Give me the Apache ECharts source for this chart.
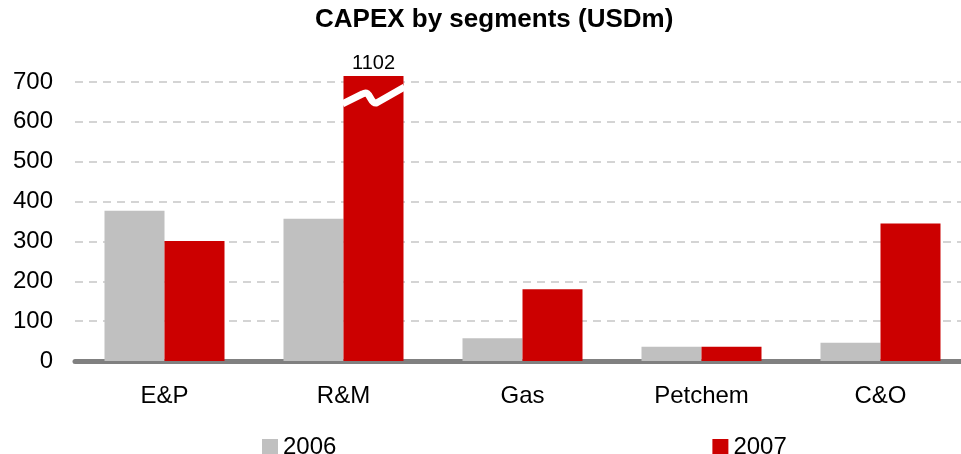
<!DOCTYPE html>
<html lang="en">
<head>
  <meta charset="UTF-8">
  <title>CAPEX by segments</title>
  <script src="https://cdn.jsdelivr.net/npm/echarts@6/dist/echarts.min.js"></script>
  <style>
    html, body { margin: 0; padding: 0; background: #fff; }
    #main { width: 961px; height: 454px; }
  </style>
</head>
<body>

<div id="main"></div>

<script>
  var categories = ['E&P', 'R&M', 'Gas', 'Petchem', 'C&O'];
  var values2006 = [377, 357, 57, 36, 46];
  var values2007 = [301, 1102, 180, 36, 345];
  var yTicks = [0, 100, 200, 300, 400, 500, 600, 700];
  var capValue = 715;   // bars taller than the axis are cut here
  var breakValue = 670; // where the break squiggle sits

  var red = '#cc0000';
  var grey = '#c0c0c0';
  var font = '"Liberation Sans", Arial, sans-serif';

  // 2007 bars, long ones capped and labelled with their real value
  var data2007 = values2007.map(function (v) {
    if (v > capValue) {
      return {
        value: capValue,
        label: { show: true, position: 'top', distance: 3, formatter: String(v),
                 fontSize: 20, color: '#000', fontFamily: font }
      };
    }
    return v;
  });
  var breaks = [];
  values2007.forEach(function (v, i) {
    if (v > capValue) breaks.push([i, breakValue]);
  });

  var chart = echarts.init(document.getElementById('main'));
  chart.setOption({
    animation: false,
    title: {
      text: 'CAPEX by segments (USDm)',
      left: 315,
      top: 7,
      padding: 0,
      textStyle: { fontFamily: font, fontSize: 26, fontWeight: 'bold', color: '#000' }
    },
    legend: {
      data: ['2006', '2007'],
      left: 257,
      top: 430,
      itemGap: 376,
      itemWidth: 16,
      itemHeight: 16,
      icon: 'rect',
      textStyle: { fontFamily: font, fontSize: 24, color: '#000', padding: [0, 0, 0, 0] }
    },
    grid: { left: 75, width: 895, top: 82, bottom: 93, containLabel: false, outerBoundsMode: 'none' },
    xAxis: {
      type: 'category',
      data: categories,
      axisTick: { show: false },
      axisLine: { lineStyle: { color: '#808080', width: 5, cap: 'round' } },
      axisLabel: { margin: 23, fontFamily: font, fontSize: 24, color: '#000' },
      z: 1
    },
    yAxis: {
      type: 'value',
      min: yTicks[0],
      max: yTicks[yTicks.length - 1],
      interval: 100,
      axisLine: { show: false },
      axisTick: { show: false },
      axisLabel: { margin: 22, fontFamily: font, fontSize: 24, color: '#000' },
      splitLine: { lineStyle: { color: '#d4d4d4', width: 2, type: [8, 6] } }
    },
    series: [
      {
        name: '2006',
        type: 'bar',
        data: values2006,
        barWidth: 60,
        barGap: '0%',
        itemStyle: { color: grey },
        z: 3
      },
      {
        name: '2007',
        type: 'bar',
        data: data2007,
        barWidth: 60,
        barGap: '0%',
        clip: false,
        itemStyle: { color: red },
        z: 3
      },
      {
        name: 'break',
        type: 'custom',
        data: breaks,
        z: 5,
        clip: false,
        silent: true,
        renderItem: function (params, api) {
          var p = api.coord([api.value(0), api.value(1)]);
          var x = p[0], y = p[1];
          var d = 'M' + (x - 1) + ' ' + (y + 10) +
                  ' L' + (x + 19) + ' ' + y +
                  ' C' + (x + 27) + ' ' + (y - 5) + ' ' + (x + 26) + ' ' + (y + 10) + ' ' + (x + 33) + ' ' + (y + 9) +
                  ' L' + (x + 61) + ' ' + (y - 7);
          return {
            type: 'path',
            shape: { pathData: d },
            style: { fill: 'none', stroke: '#fff', lineWidth: 7 }
          };
        }
      }
    ]
  });
</script>
</body>
</html>
